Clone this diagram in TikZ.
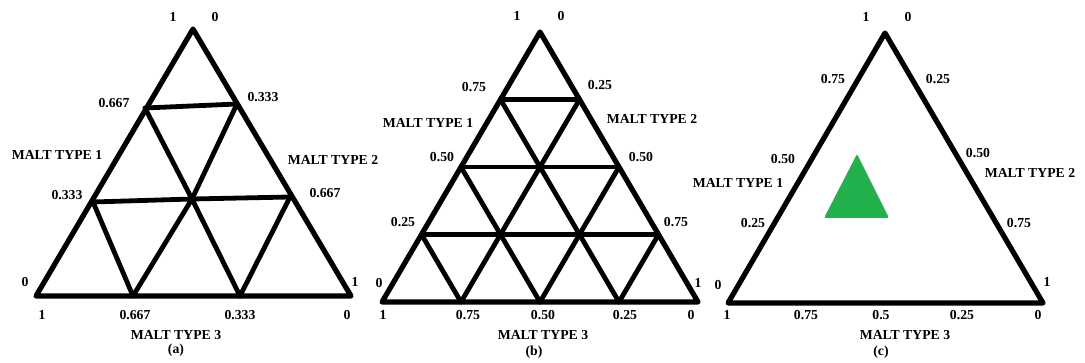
\documentclass[tikz,border=0pt]{standalone}
\usepackage{fontspec}
\setmainfont{Liberation Serif}
\usetikzlibrary{calc}
\begin{document}
\begin{tikzpicture}[x=0.75pt,y=-0.75pt,
  outer/.style={line width=3.9pt,line join=round,line cap=round},
  grid/.style={line width=3.6pt,line cap=round,line join=round},
  lbl/.style={font=\fontsize{10.3}{12}\selectfont\bfseries,text=black,inner sep=0pt}]
\useasboundingbox (0,0) rectangle (1085,363);
% ---------- panel (a) ----------
\coordinate (aT) at (193,29);
\coordinate (aL) at (36,296);
\coordinate (aR) at (351,296);
\coordinate (aL2) at (145,108);
\coordinate (aR1) at (237,104);
\coordinate (aL1) at (93,202);
\coordinate (aR2) at (290,197);
\coordinate (aC) at (192,199);
\coordinate (aB1) at (133,296);
\coordinate (aB2) at (240,296);
\draw[outer] (aT) -- (aL) -- (aR) -- cycle;
\draw[grid] (aL2) -- (aR1);
\draw[grid] (aL1) -- (aC) -- (aR2);
\draw[grid] (aL2) -- (aC) -- (aB2);
\draw[grid] (aR1) -- (aC) -- (aB1);
\draw[grid] (aL1) -- (aB1);
\draw[grid] (aR2) -- (aB2);
\node[lbl] (a1) at (173,17) {1};
\node[lbl] (a2) at (215,17) {0};
\node[lbl] (a3) at (114,103) {0.667};
\node[lbl] (a4) at (263,97) {0.333};
\node[lbl] (a5) at (57,155) {MALT TYPE 1};
\node[lbl] (a6) at (333,160) {MALT TYPE 2};
\node[lbl] (a7) at (67,195) {0.333};
\node[lbl] (a8) at (325,193) {0.667};
\node[lbl] (a9) at (25,282) {0};
\node[lbl] (a10) at (355,282) {1};
\node[lbl] (a11) at (42,315) {1};
\node[lbl] (a12) at (135,315) {0.667};
\node[lbl] (a13) at (240,315) {0.333};
\node[lbl] (a14) at (347,315) {0};
\node[lbl] (a15) at (176,335) {MALT TYPE 3};
\node[lbl] (a16) at (176,350) {(a)};
% ---------- panel (b) ----------
\coordinate (bT) at (540,32);
\coordinate (bL) at (382,302);
\coordinate (bR) at (698,302);
\coordinate (bL3) at ($(bL)!0.75!(bT)$);
\coordinate (bL2) at ($(bL)!0.5!(bT)$);
\coordinate (bL1) at ($(bL)!0.25!(bT)$);
\coordinate (bR1) at ($(bT)!0.25!(bR)$);
\coordinate (bR2) at ($(bT)!0.5!(bR)$);
\coordinate (bR3) at ($(bT)!0.75!(bR)$);
\coordinate (bB1) at ($(bL)!0.25!(bR)$);
\coordinate (bB2) at ($(bL)!0.5!(bR)$);
\coordinate (bB3) at ($(bL)!0.75!(bR)$);
\draw[outer] (bT) -- (bL) -- (bR) -- cycle;
\draw[grid] (bL3) -- (bR1);
\draw[grid] (bL2) -- (bR2);
\draw[grid] (bL1) -- (bR3);
\draw[grid] (bL3) -- (bB3);
\draw[grid] (bL2) -- (bB2);
\draw[grid] (bL1) -- (bB1);
\draw[grid] (bR1) -- (bB1);
\draw[grid] (bR2) -- (bB2);
\draw[grid] (bR3) -- (bB3);
\node[lbl] (b1) at (517,16) {1};
\node[lbl] (b2) at (561,16) {0};
\node[lbl] (b3) at (474,87) {0.75};
\node[lbl] (b4) at (600,85) {0.25};
\node[lbl] (b5) at (428,123) {MALT TYPE 1};
\node[lbl] (b6) at (652,119) {MALT TYPE 2};
\node[lbl] (b7) at (442,157) {0.50};
\node[lbl] (b8) at (641,157) {0.50};
\node[lbl] (b9) at (403,222) {0.25};
\node[lbl] (b10) at (676,222) {0.75};
\node[lbl] (b11) at (379,283) {0};
\node[lbl] (b12) at (698,283) {1};
\node[lbl] (b13) at (383,315) {1};
\node[lbl] (b14) at (468,315) {0.75};
\node[lbl] (b15) at (543,315) {0.50};
\node[lbl] (b16) at (625,315) {0.25};
\node[lbl] (b17) at (691,315) {0};
\node[lbl] (b18) at (543,335) {MALT TYPE 3};
\node[lbl] (b19) at (534,352) {(b)};
% ---------- panel (c) ----------
\coordinate (cT) at (885,33);
\coordinate (cL) at (728,303);
\coordinate (cR) at (1043,303);
\draw[outer] (cT) -- (cL) -- (cR) -- cycle;
\fill[fill={rgb,255:red,34;green,177;blue,76},rounded corners=1.5pt]
  (857,154) -- (824,218) -- (889,218) -- cycle;
\node[lbl] (c1) at (866,17) {1};
\node[lbl] (c2) at (908,17) {0};
\node[lbl] (c3) at (833,79) {0.75};
\node[lbl] (c4) at (938,79) {0.25};
\node[lbl] (c5) at (783,159) {0.50};
\node[lbl] (c6) at (978,153) {0.50};
\node[lbl] (c7) at (738,183) {MALT TYPE 1};
\node[lbl] (c8) at (1030,173) {MALT TYPE 2};
\node[lbl] (c9) at (753,223) {0.25};
\node[lbl] (c10) at (1019,223) {0.75};
\node[lbl] (c11) at (718,285) {0};
\node[lbl] (c12) at (1047,282) {1};
\node[lbl] (c13) at (727,315) {1};
\node[lbl] (c14) at (806,315) {0.75};
\node[lbl] (c15) at (881,315) {0.5};
\node[lbl] (c16) at (962,315) {0.25};
\node[lbl] (c17) at (1038,315) {0};
\node[lbl] (c18) at (905,335) {MALT TYPE 3};
\node[lbl] (c19) at (881,352) {(c)};
\end{tikzpicture}
\end{document}
